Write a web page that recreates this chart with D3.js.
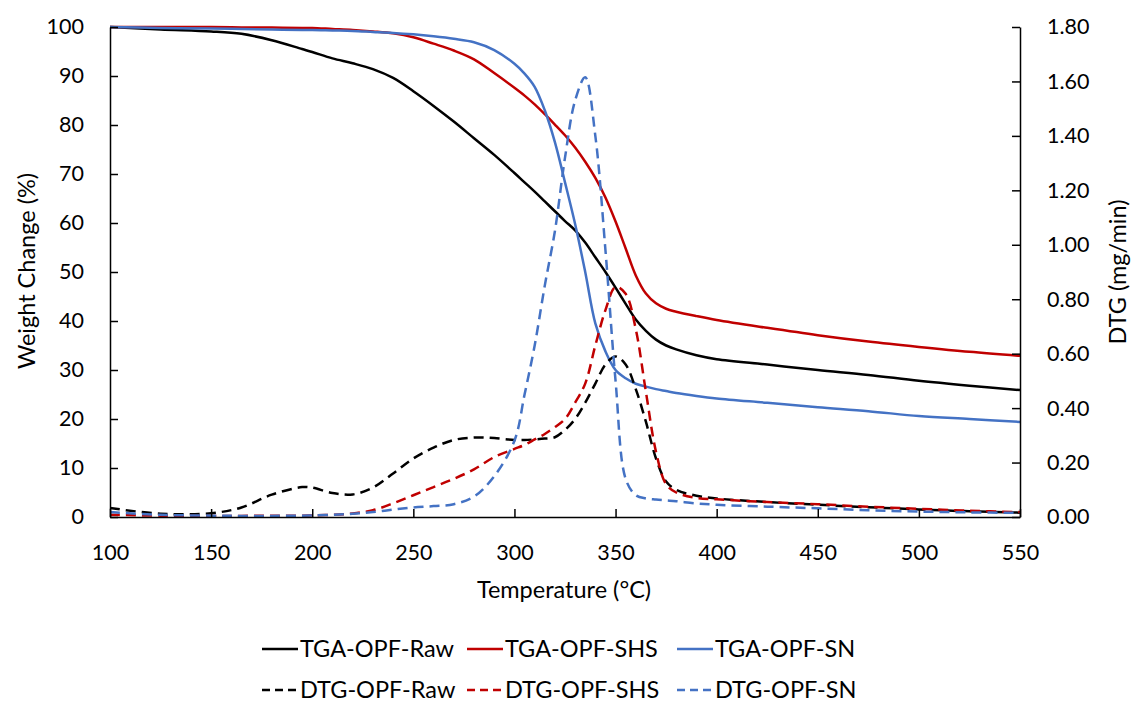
<!DOCTYPE html>
<html>
<head>
    <title>TGA / DTG</title>
    <script src="https://cdnjs.cloudflare.com/ajax/libs/d3/7.8.5/d3.min.js"></script>
    <style>
        body { margin: 0; background: #fff; }
        text { font-family: Lato, "Open Sans", sans-serif; fill: #000; }
    </style>
</head>
<body>
    <div id="chart"></div>
    <script>
        // temperatures (°C) shared by every series
        const temps = [100, 125, 150, 165, 180, 195, 200, 210, 220, 230, 240, 250, 260, 270, 280, 290, 300, 305, 310, 315,
            320, 325, 330, 335, 340, 345, 350, 355, 360, 365, 370, 375, 380, 390, 400, 425, 450, 475, 500, 525, 550]

        // weight change (%)
        const tgaRaw = [100, 99.5, 99.1, 98.6, 97.3, 95.5, 94.9, 93.6, 92.6, 91.4, 89.6, 86.9, 83.9, 80.7, 77.3, 73.9, 70.2, 68.3, 66.4, 64.4,
            62.4, 60.4, 58.5, 56, 53, 50, 46.8, 43.5, 40.3, 38, 36.2, 35, 34.2, 33, 32.2, 31.1, 30, 29, 27.8, 26.8, 25.9]
        const tgaShs = [100, 100, 100, 99.9, 99.9, 99.8, 99.8, 99.6, 99.4, 99.1, 98.7, 97.9, 96.6, 95.2, 93.4, 90.6, 87.6, 86, 84.2, 82.2,
            80.1, 77.9, 75.4, 72.5, 69.2, 65.2, 60.3, 54.8, 49.3, 45.6, 43.6, 42.5, 41.9, 41, 40.2, 38.6, 37.1, 35.8, 34.7, 33.7, 32.9]
        const tgaSn = [100, 99.8, 99.7, 99.6, 99.5, 99.4, 99.4, 99.3, 99.2, 99, 98.8, 98.5, 98.1, 97.6, 96.9, 95.3, 92.5, 90.5, 87.8, 83,
            76.5, 68.3, 59.8, 50, 39.5, 33.8, 30, 28.3, 27.2, 26.6, 26.1, 25.7, 25.3, 24.7, 24.2, 23.3, 22.4, 21.6, 20.6, 20, 19.4]

        // DTG (mg/min)
        const dtgRaw = [0.033, 0.012, 0.014, 0.035, 0.082, 0.11, 0.108, 0.088, 0.083, 0.108, 0.16, 0.215, 0.255, 0.283, 0.292, 0.29, 0.283, 0.283, 0.285, 0.288,
            0.293, 0.32, 0.36, 0.42, 0.49, 0.56, 0.59, 0.56, 0.47, 0.35, 0.215, 0.13, 0.1, 0.078, 0.068, 0.055, 0.045, 0.036, 0.028, 0.021, 0.016]
        const dtgShs = [0.008, 0.005, 0.004, 0.004, 0.005, 0.005, 0.006, 0.008, 0.013, 0.025, 0.05, 0.08, 0.11, 0.14, 0.175, 0.22, 0.25, 0.265, 0.285, 0.305,
            0.33, 0.36, 0.42, 0.49, 0.63, 0.76, 0.845, 0.82, 0.69, 0.46, 0.24, 0.12, 0.09, 0.07, 0.065, 0.055, 0.047, 0.038, 0.03, 0.023, 0.018]
        const dtgSn = [0.018, 0.008, 0.005, 0.004, 0.004, 0.005, 0.006, 0.008, 0.012, 0.018, 0.027, 0.035, 0.04, 0.047, 0.075, 0.15, 0.28, 0.45, 0.63, 0.85,
            1.05, 1.32, 1.53, 1.615, 1.4, 0.98, 0.5, 0.14, 0.08, 0.068, 0.064, 0.061, 0.058, 0.05, 0.045, 0.038, 0.032, 0.025, 0.02, 0.017, 0.015]

        const xTicks = [100, 150, 200, 250, 300, 350, 400, 450, 500, 550]
        const leftTicks = [0, 10, 20, 30, 40, 50, 60, 70, 80, 90, 100]
        const rightTicks = [0, 0.2, 0.4, 0.6, 0.8, 1.0, 1.2, 1.4, 1.6, 1.8]

        const series = [
            { name: "TGA-OPF-Raw", values: tgaRaw, color: "#000000", dash: null, axis: "left" },
            { name: "TGA-OPF-SHS", values: tgaShs, color: "#C00000", dash: null, axis: "left" },
            { name: "TGA-OPF-SN", values: tgaSn, color: "#4472C4", dash: null, axis: "left" },
            { name: "DTG-OPF-Raw", values: dtgRaw, color: "#000000", dash: "10,6", axis: "right" },
            { name: "DTG-OPF-SHS", values: dtgShs, color: "#C00000", dash: "10,6", axis: "right" },
            { name: "DTG-OPF-SN", values: dtgSn, color: "#4472C4", dash: "10,6", axis: "right" }
        ]

        const W = 1131, H = 702
        const plot = { left: 110, right: 1020, top: 27, bottom: 517 }

        let svg = d3.select("#chart").append("svg").attr("width", W).attr("height", H)

        let x = d3.scaleLinear().domain([100, 550]).range([plot.left, plot.right])
        let yL = d3.scaleLinear().domain([0, 100]).range([plot.bottom, plot.top])
        let yR = d3.scaleLinear().domain([0, 1.8]).range([plot.bottom, plot.top])

        // lines
        series.forEach(function (s) {
            let yy = s.axis === "left" ? yL : yR
            let line = d3.line()
                .x((d, i) => x(temps[i]))
                .y(d => Math.min(plot.bottom, yy(d)))
                .curve(d3.curveCatmullRom.alpha(0.5))
            svg.append("path")
                .attr("d", line(s.values))
                .attr("fill", "none")
                .attr("stroke", s.color)
                .attr("stroke-width", 2.5)
                .attr("stroke-dasharray", s.dash)
        })

        // axes, ticks inside
        let fmtR = d3.format(".2f")
        let gx = svg.append("g").attr("transform", `translate(0,${plot.bottom})`)
            .call(d3.axisBottom(x).tickValues(xTicks).tickSizeInner(-8).tickSizeOuter(0).tickPadding(28))
        let gl = svg.append("g").attr("transform", `translate(${plot.left},0)`)
            .call(d3.axisLeft(yL).tickValues(leftTicks).tickSizeInner(-8).tickSizeOuter(0).tickPadding(26))
        let gr = svg.append("g").attr("transform", `translate(${plot.right},0)`)
            .call(d3.axisRight(yR).tickValues(rightTicks).tickFormat(fmtR).tickSizeInner(-8).tickSizeOuter(0).tickPadding(27))

        ;[gx, gl, gr].forEach(function (g) {
            g.selectAll("path.domain").attr("stroke", "#000").attr("stroke-width", 1.5)
            g.selectAll(".tick line").attr("stroke", "#000").attr("stroke-width", 1.5)
            g.selectAll("text").style("font-family", "Lato, 'Open Sans', sans-serif").style("font-size", "21.5px").attr("fill", "#000")
        })

        // axis titles
        svg.append("text").attr("x", 564).attr("y", 598)
            .attr("text-anchor", "middle").style("font-size", "23.5px").text("Temperature (°C)")
        svg.append("text").attr("transform", `translate(35,271) rotate(-90)`)
            .attr("text-anchor", "middle").style("font-size", "23.5px").text("Weight Change (%)")
        svg.append("text").attr("transform", `translate(1126,272) rotate(-90)`)
            .attr("text-anchor", "middle").style("font-size", "23.5px").text("DTG (mg/min)")

        // legend: two rows of three
        let legX = [262, 467, 677]
        let legY = [649, 690]
        series.forEach(function (s, i) {
            let lx = legX[i % 3], ly = legY[Math.floor(i / 3)]
            svg.append("line").attr("x1", lx).attr("x2", lx + 36).attr("y1", ly).attr("y2", ly)
                .attr("stroke", s.color).attr("stroke-width", 2.5).attr("stroke-dasharray", s.dash ? "8,5" : null)
            svg.append("text").attr("x", lx + 38).attr("y", ly + 8).style("font-size", "23.5px").text(s.name)
        })
    </script>
</body>
</html>
